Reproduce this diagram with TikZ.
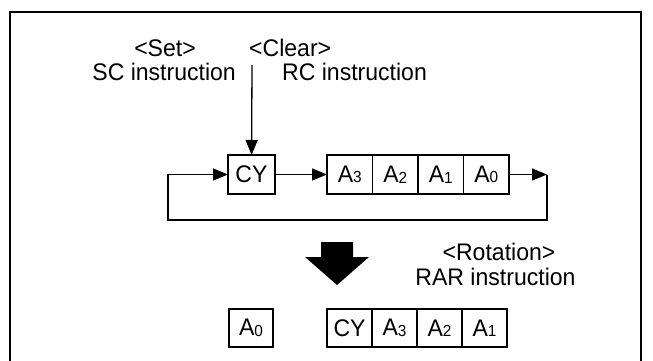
\documentclass[tikz,border=0pt]{standalone}
\usepackage{fontspec}
\setmainfont{Liberation Sans}[FakeStretch=0.96]
\usetikzlibrary{arrows.meta,positioning}

\newcommand{\regidx}[1]{{\fontsize{16}{16}\selectfont\raisebox{-0.5pt}{#1}}}

\begin{document}
\begin{tikzpicture}[x=1pt, y=-1pt,
  cell/.style={draw, line width=1.3pt, outer sep=0pt, inner sep=0pt, minimum width=45.5pt, minimum height=39pt, font=\fontsize{24}{26}\selectfont},
  lbl/.style={inner sep=0pt, font=\fontsize{24}{26}\selectfont},
  arr/.style={-{Triangle[length=15pt, width=12pt]}, line width=1.3pt}
]
\useasboundingbox (0,0) rectangle (653,361);

% frame, open at the bottom
\draw[line width=1.3pt] (10,361) -- (10,12) -- (641,12) -- (641,361);

\node[lbl] (set) at (165,48) {\textless Set\textgreater};
\node[lbl, anchor=east] (sci) at (236,72) {SC instruction};
\node[lbl, anchor=west] (clr) at (249,48) {\textless Clear\textgreater};
\node[lbl, anchor=west] (rci) at (282,72) {RC instruction};

% register before rotation
\node[cell, minimum width=47pt] (cy) at (251.5,174.5) {CY};
\node[cell, anchor=west] (a3) at (327,174.5) {A\regidx{3}};
\node[cell, right=0pt of a3] (a2) {A\regidx{2}};
\node[cell, right=0pt of a2] (a1) {A\regidx{1}};
\node[cell, right=0pt of a1] (a0) {A\regidx{0}};

\coordinate (setin) at (252,65);
\coordinate (ret) at (547,174.5);
\coordinate (loopl) at (168,220);

\draw[arr] (setin) -- (cy);
\draw[arr] (cy) -- (a3);
\draw[arr] (a0) -- (ret);
\draw[arr] (ret) |- (loopl) |- (cy.west);

% rotation
\fill (321,242) -- (353,242) -- (353,257) -- (369,257) -- (337,285) -- (305,257) -- (321,257) -- cycle;
\node[lbl] (rot) at (499,252) {\textless Rotation\textgreater};
\node[lbl] (rar) at (495.5,277) {RAR instruction};

% register after rotation
\node[cell, minimum width=44pt, minimum height=38pt] (b0) at (251,328) {A\regidx{0}};
\node[cell, minimum width=45pt, minimum height=38pt, anchor=west] (bcy) at (327,328) {CY};
\node[cell, minimum width=45pt, minimum height=38pt, right=0pt of bcy] (b3) {A\regidx{3}};
\node[cell, minimum width=45pt, minimum height=38pt, right=0pt of b3] (b2) {A\regidx{2}};
\node[cell, minimum width=45pt, minimum height=38pt, right=0pt of b2] (b1) {A\regidx{1}};

\end{tikzpicture}
\end{document}
